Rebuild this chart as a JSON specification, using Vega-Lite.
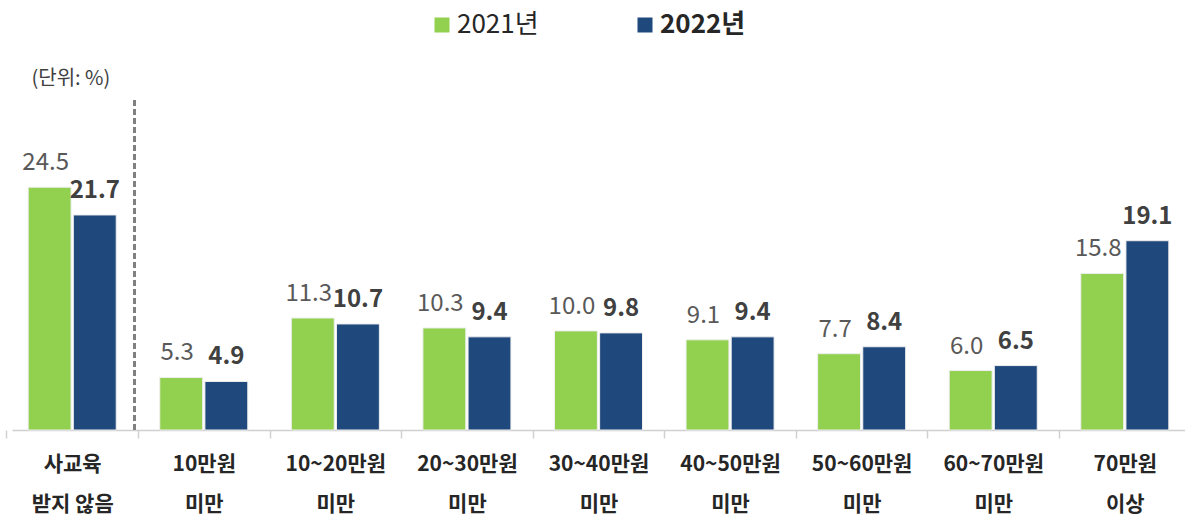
{
  "$schema": "https://vega.github.io/schema/vega-lite/v6.json",
  "width": 1173,
  "height": 330,
  "autosize": {"type": "none"},
  "padding": {"left": 12, "top": 100, "right": 0, "bottom": 86},
  "background": "white",
  "config": {"view": {"stroke": null}, "font": "Noto Sans CJK KR"},
  "data": {
    "values": [
      {"group": "사교육|받지 않음", "year": "2021년", "value": 24.5},
      {"group": "사교육|받지 않음", "year": "2022년", "value": 21.7},
      {"group": "10만원|미만", "year": "2021년", "value": 5.3},
      {"group": "10만원|미만", "year": "2022년", "value": 4.9},
      {"group": "10~20만원|미만", "year": "2021년", "value": 11.3},
      {"group": "10~20만원|미만", "year": "2022년", "value": 10.7},
      {"group": "20~30만원|미만", "year": "2021년", "value": 10.3},
      {"group": "20~30만원|미만", "year": "2022년", "value": 9.4},
      {"group": "30~40만원|미만", "year": "2021년", "value": 10.0},
      {"group": "30~40만원|미만", "year": "2022년", "value": 9.8},
      {"group": "40~50만원|미만", "year": "2021년", "value": 9.1},
      {"group": "40~50만원|미만", "year": "2022년", "value": 9.4},
      {"group": "50~60만원|미만", "year": "2021년", "value": 7.7},
      {"group": "50~60만원|미만", "year": "2022년", "value": 8.4},
      {"group": "60~70만원|미만", "year": "2021년", "value": 6.0},
      {"group": "60~70만원|미만", "year": "2022년", "value": 6.5},
      {"group": "70만원|이상", "year": "2021년", "value": 15.8},
      {"group": "70만원|이상", "year": "2022년", "value": 19.1}
    ]
  },
  "encoding": {
    "x": {
      "field": "group",
      "type": "nominal",
      "sort": null,
      "scale": {"paddingInner": 0.331, "paddingOuter": 0.123},
      "axis": {
        "title": null,
        "labelExpr": "split(datum.label, '|')",
        "labelAngle": 0,
        "labelFontSize": 21,
        "labelFontWeight": "bold",
        "labelColor": "#262626",
        "labelLineHeight": 40,
        "labelBaseline": "top",
        "labelPadding": 15,
        "labelLimit": 300,
        "labelOffset": 65.8,
        "domainColor": "#d0d0d0",
        "domainWidth": 1.5,
        "tickColor": "#d0d0d0",
        "tickSize": 8,
        "tickWidth": 1.5,
        "tickOffset": -65.8
      }
    },
    "y": {
      "field": "value",
      "type": "quantitative",
      "scale": {"domain": [0, 33.3]},
      "axis": {
        "title": "(단위: %)",
        "titleAngle": 0,
        "titleX": 19,
        "titleY": -22,
        "titleAlign": "left",
        "titleBaseline": "middle",
        "titleFontSize": 20,
        "titleFontWeight": "normal",
        "titleColor": "#404040",
        "domain": false,
        "ticks": false,
        "labels": false,
        "grid": false
      }
    },
    "xOffset": {"field": "year", "scale": {"paddingInner": 0.05}}
  },
  "layer": [
    {
      "mark": {"type": "bar", "stroke": "#eeeeee", "strokeWidth": 1},
      "encoding": {
        "color": {
          "field": "year",
          "type": "nominal",
          "scale": {"domain": ["2021년", "2022년"], "range": ["#92D050", "#1F497D"]},
          "legend": {
            "title": null,
            "orient": "none",
            "legendX": 417,
            "legendY": -88,
            "direction": "horizontal",
            "symbolType": "square",
            "symbolSize": 225,
            "symbolStrokeWidth": 0,
            "symbolOpacity": 1,
            "labelFontSize": 26,
            "labelColor": "#262626",
            "labelOffset": 2,
            "labelFontWeight": {"expr": "datum.value == '2022년' ? 'bold' : 'normal'"},
            "columnPadding": 93,
            "padding": 0
          }
        }
      }
    },
    {
      "transform": [{"filter": "datum.year == '2021년'"}],
      "mark": {"type": "text", "baseline": "alphabetic", "dy": -17, "dx": -4, "fontSize": 24, "color": "#595959"},
      "encoding": {"text": {"field": "value", "type": "quantitative", "format": ".1f"}}
    },
    {
      "transform": [{"filter": "datum.year == '2022년'"}],
      "mark": {"type": "text", "baseline": "alphabetic", "dy": -17, "fontSize": 24, "fontWeight": "bold", "color": "#404040"},
      "encoding": {"text": {"field": "value", "type": "quantitative", "format": ".1f"}}
    },
    {
      "mark": {"type": "rule", "strokeDash": [6, 3], "color": "#808080", "strokeWidth": 2},
      "encoding": {
        "x": {"datum": "사교육|받지 않음", "type": "nominal", "bandPosition": 1.21},
        "xOffset": null,
        "y": {"datum": 0},
        "y2": {"datum": 33.3}
      }
    }
  ]
}
